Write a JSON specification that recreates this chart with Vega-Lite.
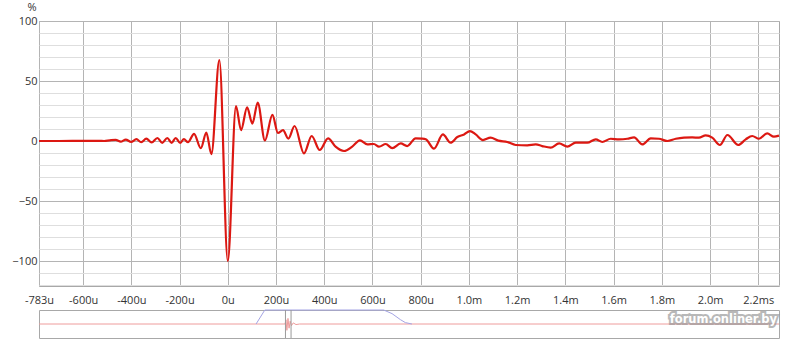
{
  "$schema": "https://vega.github.io/schema/vega-lite/v6.json",
  "background": "white",
  "padding": {"left": 11, "top": 0, "right": 18, "bottom": 2},
  "spacing": 24,
  "bounds": "flush",
  "config": {
    "view": {"stroke": "#a8a8a8", "strokeWidth": 1},
    "axis": {"labelFont": "Open Sans", "labelFontSize": 11, "labelColor": "#333333", "titleFont": "Open Sans", "titleColor": "#333333", "domain": false, "ticks": false}
  },
  "datasets": {
    "ir": [
      {"t": -783, "v": 0}, {"t": -700, "v": 0}, {"t": -617, "v": 0.1}, {"t": -534, "v": 0.2}, {"t": -513, "v": 0},
      {"t": -489, "v": 0.6}, {"t": -465, "v": 1}, {"t": -444, "v": -0.5}, {"t": -423, "v": 1.2}, {"t": -401, "v": -0.8},
      {"t": -379, "v": 1.5}, {"t": -359, "v": -1}, {"t": -338, "v": 2}, {"t": -316, "v": -1.2}, {"t": -292, "v": 2.5},
      {"t": -272, "v": -1.5}, {"t": -251, "v": 2.5}, {"t": -233, "v": -1.5}, {"t": -216, "v": 2.5}, {"t": -198, "v": -1.5},
      {"t": -182, "v": 1.5}, {"t": -165, "v": -1}, {"t": -140, "v": 6}, {"t": -112, "v": -6}, {"t": -89, "v": 7},
      {"t": -68, "v": -11}, {"t": -35, "v": 67.5}, {"t": 0, "v": -100}, {"t": 34, "v": 29}, {"t": 55, "v": 9},
      {"t": 80, "v": 28}, {"t": 102, "v": 14.5}, {"t": 124, "v": 32}, {"t": 154, "v": 0.5}, {"t": 185, "v": 21.7},
      {"t": 208, "v": 6.7}, {"t": 229, "v": 9}, {"t": 251, "v": 2}, {"t": 277, "v": 12.5}, {"t": 316, "v": -10.3},
      {"t": 348, "v": 4.2}, {"t": 381, "v": -7.5}, {"t": 416, "v": 2.2}, {"t": 447, "v": -4.7}, {"t": 482, "v": -8.3},
      {"t": 516, "v": -4.7}, {"t": 548, "v": 0.5}, {"t": 579, "v": -2.8}, {"t": 606, "v": -2.5}, {"t": 627, "v": -4.7},
      {"t": 655, "v": -2.5}, {"t": 682, "v": -6}, {"t": 717, "v": -2}, {"t": 744, "v": -4.2}, {"t": 779, "v": 2.2},
      {"t": 807, "v": 2}, {"t": 821, "v": 1.5}, {"t": 855, "v": -6.4}, {"t": 892, "v": 5.5}, {"t": 924, "v": -1.4},
      {"t": 952, "v": 3.3}, {"t": 980, "v": 5.5}, {"t": 1004, "v": 8.3}, {"t": 1028, "v": 5.5}, {"t": 1058, "v": 0.8},
      {"t": 1090, "v": 2.8}, {"t": 1122, "v": 0.3}, {"t": 1159, "v": -0.8}, {"t": 1194, "v": -3.3}, {"t": 1242, "v": -3.6},
      {"t": 1277, "v": -2.8}, {"t": 1304, "v": -4.2}, {"t": 1339, "v": -5.5}, {"t": 1374, "v": -2}, {"t": 1408, "v": -4.7},
      {"t": 1443, "v": -1.4}, {"t": 1491, "v": -1.4}, {"t": 1526, "v": 1.4}, {"t": 1553, "v": -0.8}, {"t": 1588, "v": 1.9},
      {"t": 1622, "v": 1.4}, {"t": 1657, "v": 1.9}, {"t": 1685, "v": 3}, {"t": 1719, "v": -2.8}, {"t": 1754, "v": 2.2},
      {"t": 1788, "v": 1.9}, {"t": 1823, "v": 0}, {"t": 1858, "v": 1.9}, {"t": 1892, "v": 2.8}, {"t": 1926, "v": 3},
      {"t": 1954, "v": 2.8}, {"t": 1982, "v": 4.7}, {"t": 2009, "v": 2.8}, {"t": 2041, "v": -3.3}, {"t": 2072, "v": 5},
      {"t": 2117, "v": -3.3}, {"t": 2148, "v": 1.4}, {"t": 2175, "v": 4.2}, {"t": 2203, "v": 1.9}, {"t": 2237, "v": 6.4},
      {"t": 2265, "v": 3.6}, {"t": 2286, "v": 4.5}
    ],
    "ov": [
      {"t": -136, "v": 0}, {"t": -1, "v": 0}, {"t": -0.5, "v": 0.3}, {"t": 0, "v": -0.45}, {"t": 0.6, "v": 0.4},
      {"t": 1.2, "v": -0.3}, {"t": 1.8, "v": 0.2}, {"t": 2.5, "v": -0.12}, {"t": 3.5, "v": 0.08}, {"t": 5, "v": -0.04},
      {"t": 7, "v": 0}, {"t": 270, "v": 0}
    ],
    "win": [
      {"t": -16.9, "w": 0}, {"t": -12.1, "w": 1}, {"t": 53.1, "w": 1}, {"t": 57.7, "w": 0.74}, {"t": 62.3, "w": 0.31},
      {"t": 65, "w": 0.1}, {"t": 68.6, "w": 0}
    ],
    "marks": [{"t": -0.783}, {"t": 2.286}],
    "wm": [{"t": 270, "v": 0.3, "label": "forum.onliner.by"}]
  },
  "vconcat": [
    {
      "width": 740,
      "height": 265,
      "data": {"name": "ir"},
      "layer": [
        {
          "mark": {"type": "line", "strokeOpacity": 0},
          "encoding": {
            "x": {"field": "t", "type": "quantitative", "scale": {"domain": [-783, 2286], "nice": false, "zero": false}, "axis": null},
            "y": {"field": "v", "type": "quantitative", "scale": {"domain": [-120.8, 100], "nice": false, "zero": false},
              "axis": {"orient": "left", "values": [-120, -110, -90, -80, -70, -60, -40, -30, -20, -10, 10, 20, 30, 40, 60, 70, 80, 90],
                "grid": true, "gridColor": "#dedede", "labels": false, "title": null}}
          }
        },
        {
          "mark": {"type": "line", "color": "#dc1812", "strokeWidth": 2.2, "interpolate": "monotone"},
          "encoding": {
            "x": {"field": "t", "type": "quantitative", "scale": {"domain": [-783, 2286], "nice": false, "zero": false},
              "axis": {"values": [-783, -600, -400, -200, 0, 200, 400, 600, 800, 1000, 1200, 1400, 1600, 1800, 2000, 2200],
                "labelExpr": "datum.value == 2200 ? '2.2ms' : (datum.value >= 1000 ? format(datum.value / 1000, '.1f') + 'm' : datum.value + 'u')",
                "grid": true, "gridColor": "#b4b4b4", "labelFlush": false, "labelOverlap": false, "labelPadding": 8, "title": null}},
            "y": {"field": "v", "type": "quantitative", "scale": {"domain": [-120.8, 100], "nice": false, "zero": false},
              "axis": {"orient": "left", "values": [-100, -50, 0, 50, 100], "grid": true, "gridColor": "#b4b4b4", "labelPadding": 2,
                "title": "%", "titleAngle": 0, "titleAlign": "center", "titleBaseline": "alphabetic", "titleX": -7.5, "titleY": -11,
                "titleFontSize": 11, "titleFontWeight": "normal"}}
          }
        }
      ],
      "resolve": {"axis": {"y": "independent", "x": "independent"}}
    },
    {
      "width": 740,
      "height": 28,
      "layer": [
        {
          "data": {"name": "ov"},
          "mark": {"type": "line", "color": "#ee9c9c", "strokeWidth": 1},
          "encoding": {
            "x": {"field": "t", "type": "quantitative", "scale": {"domain": [-136, 270], "nice": false, "zero": false}, "axis": null},
            "y": {"field": "v", "type": "quantitative", "scale": {"domain": [-1, 1], "nice": false}, "axis": null}
          }
        },
        {
          "data": {"name": "win"},
          "mark": {"type": "line", "color": "#a4a4e4", "strokeWidth": 1},
          "encoding": {
            "x": {"field": "t", "type": "quantitative"},
            "y": {"field": "w", "type": "quantitative"}
          }
        },
        {
          "data": {"name": "marks"},
          "mark": {"type": "rule", "color": "#9a9a9a", "strokeWidth": 1},
          "encoding": {"x": {"field": "t", "type": "quantitative"}}
        },
        {
          "data": {"name": "wm"},
          "mark": {"type": "text", "align": "right", "baseline": "middle", "dx": -2, "font": "DejaVu Sans", "fontWeight": "bold", "fontSize": 11.5, "fill": "#8a8a8a", "stroke": "#8a8a8a", "strokeWidth": 4, "opacity": 0.6},
          "encoding": {"x": {"field": "t", "type": "quantitative"}, "y": {"field": "v", "type": "quantitative"}, "text": {"field": "label"}}
        },
        {
          "data": {"name": "wm"},
          "mark": {"type": "text", "align": "right", "baseline": "middle", "dx": -2, "font": "DejaVu Sans", "fontWeight": "bold", "fontSize": 11.5, "fill": "white"},
          "encoding": {"x": {"field": "t", "type": "quantitative"}, "y": {"field": "v", "type": "quantitative"}, "text": {"field": "label"}}
        }
      ]
    }
  ]
}
